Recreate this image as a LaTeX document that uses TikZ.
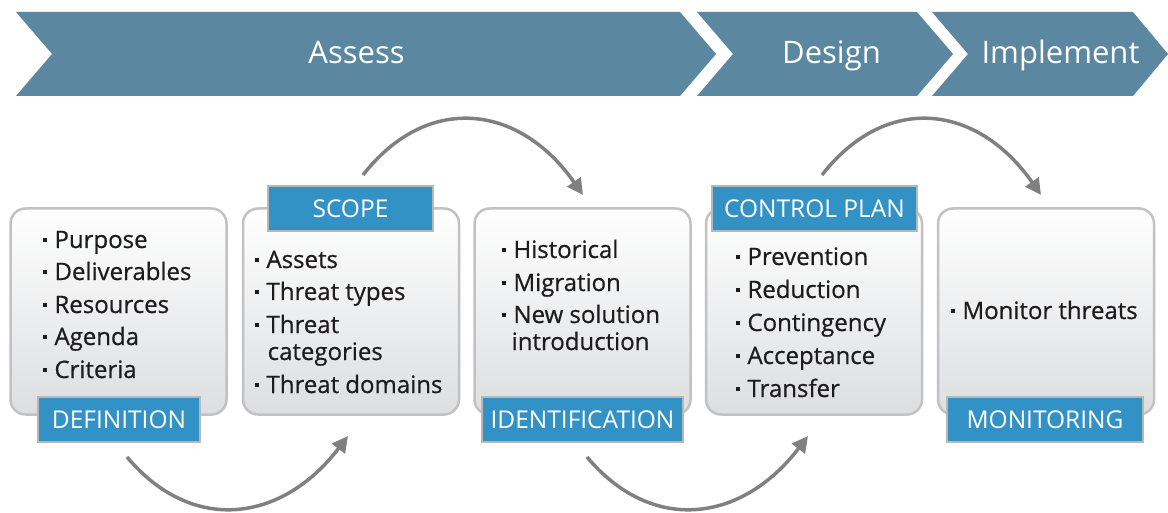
\documentclass[tikz,border=0pt]{standalone}
\usepackage{fontspec}
\setmainfont{Open Sans}
\newfontfamily\itemfont[FakeBold=0.6]{Open Sans}
\usetikzlibrary{arrows.meta}
\definecolor{chev}{HTML}{5C87A0}
\definecolor{lbl}{HTML}{3392C5}
\definecolor{lblborder}{HTML}{B8B8B8}
\definecolor{boxborder}{HTML}{C2C2C4}
\definecolor{boxbot}{HTML}{DDDEE0}
\definecolor{arr}{HTML}{808080}
\definecolor{txt}{HTML}{1E1B1C}
\newcommand{\bul}{\raisebox{6pt}{\rule{3.8pt}{3.8pt}}\hspace{7.5pt}}
\begin{document}
\begin{tikzpicture}[x=1pt,y=-1pt,
  chevtext/.style={anchor=base, text=white, inner sep=0, font=\fontsize{31}{36}\selectfont},
  box/.style={draw=boxborder, line width=2.5pt, rounded corners=15pt, top color=white, bottom color=boxbot, minimum width=216pt, minimum height=206pt, inner sep=0},
  lblbox/.style={draw=lblborder, line width=2pt, fill=lbl, text=white, inner sep=0, minimum height=45pt, font=\fontsize{24.5}{28}\selectfont},
  item/.style={anchor=base west, inner sep=0, text=txt, font=\itemfont\fontsize{24}{28}\selectfont},
  curvearrow/.style={draw=arr, line width=3.5pt, -{Triangle[length=16pt,width=16pt]}}
]
\useasboundingbox (0,0) rectangle (1168,513);
% chevrons
\fill[chev] (16,12) -- (680,12) -- (716,54) -- (680,96) -- (16,96) -- (52,54) -- cycle;
\fill[chev] (697,12) -- (917,12) -- (953,54) -- (917,96) -- (697,96) -- (733,54) -- cycle;
\fill[chev] (932,12) -- (1133,12) -- (1168,54) -- (1133,96) -- (932,96) -- (968,54) -- cycle;
\node[chevtext] (assess) at (356.5,63.5) {Assess};
\node[chevtext] (design) at (831.5,63.5) {Design};
\node[chevtext] (implement) at (1060.5,63.5) {Implement};
% boxes
\node[box] (box1) at (118.5,311.5) {};
\node[box] (box2) at (351,311.5) {};
\node[box] (box3) at (582.5,311.5) {};
\node[box] (box4) at (814,311.5) {};
\node[box] (box5) at (1046,311.5) {};
% labels
\node[lblbox, minimum width=162pt] (definition) at (119,419.5) {DEFINITION};
\node[lblbox, minimum width=165pt] (scope) at (350.5,208.5) {SCOPE};
\node[lblbox, minimum width=201pt] (identification) at (582.5,419.5) {IDENTIFICATION};
\node[lblbox, minimum width=205pt] (controlplan) at (814.5,208.5) {CONTROL PLAN};
\node[lblbox, minimum width=196pt] (monitoring) at (1045,419.5) {MONITORING};
% box 1 items
\node[item] (i1a) at (43,248) {\bul Purpose};
\node[item] (i1b) at (43,280) {\bul Deliverables};
\node[item] (i1c) at (43,313) {\bul Resources};
\node[item] (i1d) at (43,345) {\bul Agenda};
\node[item] (i1e) at (43,378) {\bul Criteria};
% box 2 items
\node[item] (i2a) at (255,268) {\bul Assets};
\node[item] (i2b) at (255,300) {\bul Threat types};
\node[item] (i2c) at (255,333) {\bul Threat};
\node[item] (i2d) at (267.5,360) {categories};
\node[item] (i2e) at (255,393) {\bul Threat domains};
% box 3 items
\node[item] (i3a) at (502,258) {\bul Historical};
\node[item] (i3b) at (502,291) {\bul Migration};
\node[item] (i3c) at (502,323) {\bul New solution};
\node[item] (i3d) at (511.5,350) {introduction};
% box 4 items
\node[item] (i4a) at (736,265) {\bul Prevention};
\node[item] (i4b) at (736,298) {\bul Reduction};
\node[item] (i4c) at (736,331) {\bul Contingency};
\node[item] (i4d) at (736,364) {\bul Acceptance};
\node[item] (i4e) at (736,397) {\bul Transfer};
% box 5 items
\node[item] (i5a) at (951,319) {\bul Monitor threats};
% arrows
\coordinate (a1s) at (127,457);
\coordinate (a1e) at (348,436);
\coordinate (a2s) at (363,175);
\coordinate (a2e) at (583,195);
\coordinate (a3s) at (587,457);
\coordinate (a3e) at (808,436);
\coordinate (a4s) at (822,175);
\coordinate (a4e) at (1041,195);
\draw[curvearrow] (a1s) .. controls (192.5,535) and (282.5,522) .. (a1e);
\draw[curvearrow] (a2s) .. controls (427,93) and (519,103.5) .. (a2e);
\draw[curvearrow] (a3s) .. controls (652.5,535) and (742.5,522) .. (a3e);
\draw[curvearrow] (a4s) .. controls (886,93) and (977,103.5) .. (a4e);
\end{tikzpicture}
\end{document}
